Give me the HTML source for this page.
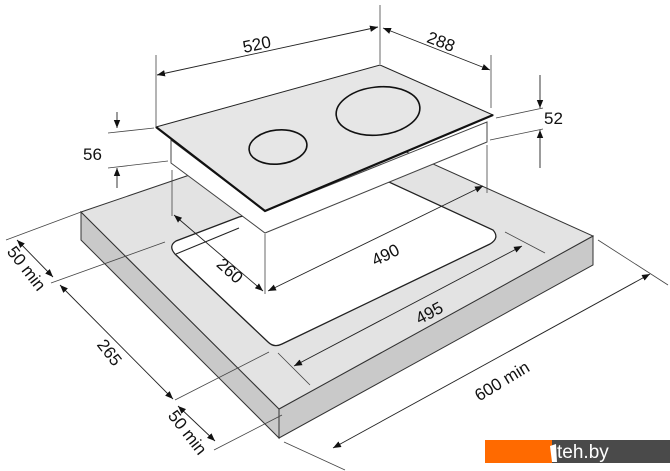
<!DOCTYPE html>
<html><head><style>
html,body{margin:0;padding:0;background:#fff;}
svg{display:block;font-family:"Liberation Sans",sans-serif;}
</style></head><body>
<svg width="670" height="471" viewBox="0 0 670 471" xmlns="http://www.w3.org/2000/svg">
<defs>
<marker id="a" viewBox="0 0 10 10" refX="10" refY="5" markerWidth="8" markerHeight="8" orient="auto-start-reverse" markerUnits="userSpaceOnUse"><path d="M0,1 L10,5 L0,9 z" fill="#111"/></marker>
</defs>
<polygon points="81,212 81,240 279,438 279,409" fill="#c9c9c9" stroke="#333" stroke-width="1"/>
<polygon points="279,409 279,438 593,265 593,236" fill="#c9c9c9" stroke="#333" stroke-width="1"/>
<polygon points="81,212 342,123 593,236 279,409" fill="#e3e3e3" stroke="#333" stroke-width="1"/>
<path d="M239,217 L176,241 Q168,246 175,254 L268,342 Q274,348 282,344 L490,244 Q500,238 493,230 L389,182 Z" fill="#fff" stroke="#222" stroke-width="1.3"/>
<line x1="176" y1="254" x2="239" y2="228" stroke="#222" stroke-width="1"/>
<polygon points="171,140 171,163 265,233 487,142 487,122 265,211" fill="#fff" stroke="#444" stroke-width="1"/>
<polygon points="156,127 380,65 493,115 265,211" fill="#e6e6e6" stroke="#222" stroke-width="1"/>
<polyline points="156,127 265,211 493,115" fill="none" stroke="#111" stroke-width="2.2"/>
<ellipse cx="278" cy="147" rx="29" ry="17" transform="rotate(-6 278 147)" fill="none" stroke="#111" stroke-width="1.6"/>
<ellipse cx="378" cy="111" rx="42" ry="24" transform="rotate(-6 378 111)" fill="none" stroke="#111" stroke-width="1.6"/>
<g stroke="#444" stroke-width="0.8" fill="none">
<line x1="156" y1="55" x2="156" y2="126"/>
<line x1="380" y1="5" x2="380" y2="64"/>
<line x1="491" y1="55" x2="491" y2="108"/>
<line x1="496" y1="118" x2="543" y2="108"/>
<line x1="490" y1="140" x2="543" y2="129"/>
<line x1="108" y1="133" x2="154" y2="128"/>
<line x1="108" y1="168" x2="168" y2="161"/>
<line x1="172" y1="170" x2="172" y2="216"/>
<line x1="265" y1="234" x2="265" y2="294"/>
<line x1="487" y1="145" x2="487" y2="193"/>
<line x1="505" y1="232" x2="545" y2="253"/>
<line x1="278" y1="353" x2="310" y2="385"/>
<line x1="598" y1="240" x2="668" y2="285"/>
<line x1="284" y1="442" x2="345" y2="470"/>
<line x1="6" y1="240" x2="81" y2="212"/>
<line x1="51" y1="283" x2="165" y2="242"/>
<line x1="175" y1="400" x2="269" y2="352"/>
<line x1="214" y1="450" x2="282" y2="415"/>
</g>
<g stroke="#222" stroke-width="0.9" fill="none" marker-start="url(#a)" marker-end="url(#a)">
<line x1="157" y1="75" x2="378" y2="27"/>
<line x1="383" y1="28" x2="490" y2="70"/>
<line x1="174" y1="215" x2="263" y2="291"/>
<line x1="268" y1="291" x2="483" y2="186"/>
<line x1="294" y1="366" x2="522" y2="246"/>
<line x1="333" y1="448" x2="650" y2="274"/>
<line x1="17" y1="240" x2="53" y2="277"/>
<line x1="60" y1="285" x2="173" y2="399"/>
<line x1="178" y1="406" x2="215" y2="441"/>
</g>
<g stroke="#222" stroke-width="0.9" fill="none" marker-end="url(#a)">
<line x1="540" y1="75" x2="540" y2="108"/>
<line x1="540" y1="168" x2="540" y2="130"/>
<line x1="117" y1="112" x2="117" y2="128"/>
<line x1="117" y1="188" x2="117" y2="168"/>
</g>
<g fill="#111" font-size="17">
<text x="258" y="50" text-anchor="middle" transform="rotate(-12 258 50)">520</text>
<text x="439" y="47" text-anchor="middle" transform="rotate(21 439 47)">288</text>
<text x="544" y="124">52</text>
<text x="83" y="160">56</text>
<text x="226" y="275" text-anchor="middle" transform="rotate(42 226 275)">260</text>
<text x="388" y="260" text-anchor="middle" transform="rotate(-26 388 260)">490</text>
<text x="432" y="318" text-anchor="middle" transform="rotate(-28 432 318)">495</text>
<text x="505" y="386" text-anchor="middle" transform="rotate(-31 505 386)">600 min</text>
<text x="105" y="356" text-anchor="middle" transform="rotate(52 105 356)">265</text>
<text x="22" y="272" text-anchor="middle" transform="rotate(52 22 272)">50 min</text>
<text x="183" y="436" text-anchor="middle" transform="rotate(52 183 436)">50 min</text>
</g>
<rect x="485" y="440" width="67" height="23" fill="#ff6a00"/>
<rect x="552" y="440" width="118" height="23" fill="#4a4a4a"/>
<path d="M550,446 L556,444 L557,462 L552,462 Z" fill="#fff"/>
<text x="557" y="458" fill="#fff" font-size="19">teh.by</text>
</svg>
</body></html>
